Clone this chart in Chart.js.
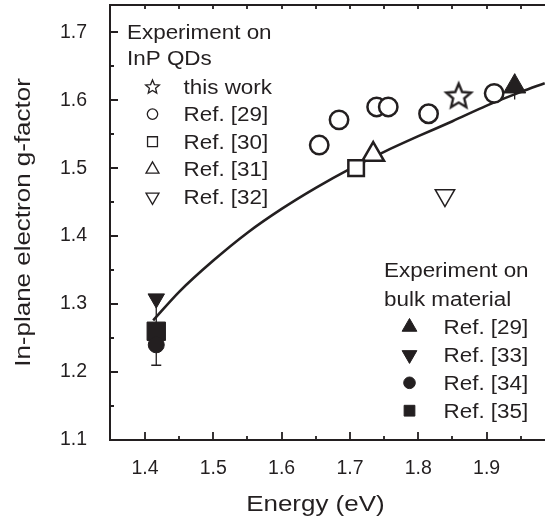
<!DOCTYPE html>
<html>
<head>
<meta charset="utf-8">
<script src="https://cdn.jsdelivr.net/npm/chart.js@4.4.1/dist/chart.umd.min.js"></script>
<style>
html, body { margin: 0; padding: 0; background: #fff; }
#wrap { width: 545px; height: 522px; position: relative; }
</style>
</head>
<body>
<div id="wrap"><canvas id="gfactorChart"></canvas></div>
<script>
// --- experiment on InP QDs (open symbols) ---
const thisWorkE = [1.859];
const thisWorkG = [1.607];
const ref29E = [1.655, 1.684, 1.739, 1.756, 1.815, 1.911];
const ref29G = [1.534, 1.571, 1.590, 1.590, 1.580, 1.610];
const ref30E = [1.709];
const ref30G = [1.500];
const ref31E = [1.734];
const ref31G = [1.520];
const ref32E = [1.839];
const ref32G = [1.460];

// --- experiment on bulk material (filled symbols) ---
const bulk29E = [1.941];
const bulk29G = [1.620];
const bulk29Err = [0.019];
const bulk33E = [1.4165];
const bulk33G = [1.308];
const bulk34E = [1.4165];
const bulk34G = [1.240];
const bulk35E = [1.4165];
const bulk35G = [1.260];
const bulk35Err = [0.05];

// --- calculated curve ---
const fitE = [1.412, 1.45, 1.50, 1.55, 1.60, 1.65, 1.70, 1.75, 1.80, 1.85, 1.90, 1.95, 1.985];
const fitG = [1.276, 1.318, 1.364, 1.405, 1.440, 1.471, 1.499, 1.524, 1.547, 1.569, 1.592, 1.612, 1.625];

// --- axes ---
const xTicks = [1.4, 1.5, 1.6, 1.7, 1.8, 1.9];
const xMinorTicks = [1.45, 1.55, 1.65, 1.75, 1.85, 1.95];
const yTicks = [1.1, 1.2, 1.3, 1.4, 1.5, 1.6, 1.7];
const yMinorTicks = [1.15, 1.25, 1.35, 1.45, 1.55, 1.65];
const xTitle = 'Energy (eV)';
const yTitle = 'In-plane electron g-factor';

// --- legend text ---
const qdHeader = ['Experiment on', 'InP QDs'];
const qdLabels = ['this work', 'Ref. [29]', 'Ref. [30]', 'Ref. [31]', 'Ref. [32]'];
const bulkHeader = ['Experiment on', 'bulk material'];
const bulkLabels = ['Ref. [29]', 'Ref. [33]', 'Ref. [34]', 'Ref. [35]'];

const ink = '#231f20';
const fontFamily = '"Liberation Sans", Arial, Helvetica, sans-serif';
Chart.defaults.font.family = fontFamily;

function pts(xs, ys) {
  return xs.map((x, i) => ({x: x, y: ys[i]}));
}

// five pointed open star as a point image
function starCanvas(R, ratio, lw) {
  const pad = Math.ceil(lw) + 2;
  const size = Math.ceil(2 * R + 2 * pad);
  const c = document.createElement('canvas');
  c.width = size;
  c.height = size;
  const g = c.getContext('2d');
  const cx = size / 2, cy = size / 2 + R * 0.095;
  g.beginPath();
  for (let i = 0; i < 10; i++) {
    const rr = i % 2 ? R * ratio : R;
    const a = -Math.PI / 2 + i * Math.PI / 5;
    g.lineTo(cx + rr * Math.cos(a), cy + rr * Math.sin(a));
  }
  g.closePath();
  g.fillStyle = '#fff';
  g.fill();
  g.lineWidth = lw;
  g.lineJoin = 'miter';
  g.strokeStyle = ink;
  g.stroke();
  return c;
}
const starBig = starCanvas(13, 0.45, 2.4);
const starSmall = starCanvas(7.2, 0.45, 1.3);

function openSet(label, data, style, radius, lw, rotation) {
  return {
    label: label, data: data, pointStyle: style, pointRadius: radius,
    pointRotation: rotation || 0, pointBorderWidth: lw,
    pointBorderColor: ink, pointBackgroundColor: '#fff',
    borderColor: ink, backgroundColor: '#fff'
  };
}
function filledSet(label, data, style, radius, rotation) {
  return {
    label: label, data: data, pointStyle: style, pointRadius: radius,
    pointRotation: rotation || 0, pointBorderWidth: 1,
    pointBorderColor: ink, pointBackgroundColor: ink,
    borderColor: ink, backgroundColor: ink
  };
}

// legend symbol styles, same order as the labels
const qdSymbols = [
  {pointStyle: starSmall, radius: 7, rotation: 0, borderWidth: 0, fill: '#fff'},
  {pointStyle: 'circle', radius: 5.2, rotation: 0, borderWidth: 1.3, fill: '#fff'},
  {pointStyle: 'rect', radius: 7, rotation: 0, borderWidth: 1.3, fill: '#fff'},
  {pointStyle: 'triangle', radius: 7.5, rotation: 0, borderWidth: 1.3, fill: '#fff'},
  {pointStyle: 'triangle', radius: 7.5, rotation: 180, borderWidth: 1.3, fill: '#fff'}
];
const bulkSymbols = [
  {pointStyle: 'triangle', radius: 8.5, rotation: 0, borderWidth: 1, fill: ink},
  {pointStyle: 'triangle', radius: 8.5, rotation: 180, borderWidth: 1, fill: ink},
  {pointStyle: 'circle', radius: 5.8, rotation: 0, borderWidth: 1, fill: ink},
  {pointStyle: 'rect', radius: 7.6, rotation: 0, borderWidth: 1, fill: ink}
];

function wideText(ctx, text, x, y, size, sx, align) {
  ctx.save();
  ctx.font = size + 'px ' + fontFamily;
  ctx.fillStyle = ink;
  ctx.textBaseline = 'alphabetic';
  ctx.textAlign = align || 'left';
  ctx.translate(x, y);
  ctx.scale(sx, 1);
  ctx.fillText(text, 0, 0);
  ctx.restore();
}

const errorBars = [
  {e: bulk35E, g: bulk35G, err: bulk35Err, cap: 10},
  {e: bulk29E, g: bulk29G, err: bulk29Err, cap: 0}
];

function noPadding(scale) {
  scale.paddingTop = 0;
  scale.paddingBottom = 0;
  scale.paddingLeft = 0;
  scale.paddingRight = 0;
}

const framePlugin = {
  id: 'frame',
  beforeDatasetsDraw: (chart) => {
    const ctx = chart.ctx;
    const xs = chart.scales.x, ys = chart.scales.y;
    ctx.save();
    ctx.strokeStyle = ink;
    ctx.lineWidth = 1.3;
    errorBars.forEach(b => {
      b.e.forEach((e, i) => {
        const px = xs.getPixelForValue(e);
        const lo = ys.getPixelForValue(b.g[i] - b.err[i]);
        const hi = ys.getPixelForValue(b.g[i] + b.err[i]);
        ctx.beginPath();
        ctx.moveTo(px, lo); ctx.lineTo(px, hi);
        if (b.cap) {
          ctx.moveTo(px - b.cap / 2, lo); ctx.lineTo(px + b.cap / 2, lo);
          ctx.moveTo(px - b.cap / 2, hi); ctx.lineTo(px + b.cap / 2, hi);
        }
        ctx.stroke();
      });
    });
    ctx.restore();
  },
  afterDraw: (chart) => {
    const ctx = chart.ctx;
    const a = chart.chartArea;
    const xs = chart.scales.x, ys = chart.scales.y;
    ctx.save();
    ctx.strokeStyle = ink;
    ctx.lineWidth = 2;
    // top frame line
    ctx.beginPath();
    ctx.moveTo(a.left - 1, a.top);
    ctx.lineTo(a.right, a.top);
    ctx.stroke();
    // inward tick marks
    ctx.lineWidth = 1.8;
    ctx.beginPath();
    xTicks.forEach(v => {
      const p = Math.round(xs.getPixelForValue(v));
      ctx.moveTo(p, a.bottom); ctx.lineTo(p, a.bottom - 8);
      ctx.moveTo(p, a.top); ctx.lineTo(p, a.top + 4);
    });
    xMinorTicks.forEach(v => {
      const p = Math.round(xs.getPixelForValue(v));
      ctx.moveTo(p, a.bottom); ctx.lineTo(p, a.bottom - 4);
      ctx.moveTo(p, a.top); ctx.lineTo(p, a.top + 4);
    });
    yTicks.forEach(v => {
      const p = Math.round(ys.getPixelForValue(v));
      ctx.moveTo(a.left, p); ctx.lineTo(a.left + 8, p);
    });
    yMinorTicks.forEach(v => {
      const p = Math.round(ys.getPixelForValue(v));
      ctx.moveTo(a.left, p); ctx.lineTo(a.left + 4, p);
    });
    ctx.stroke();
    ctx.restore();

    // axis titles
    wideText(ctx, xTitle, (a.left + xs.getPixelForValue(1.95)) / 2, 511, 22, 1.18, 'center');
    ctx.save();
    ctx.translate(30, (a.top + a.bottom) / 2);
    ctx.rotate(-Math.PI / 2);
    wideText(ctx, yTitle, 0, 0, 22, 1.18, 'center');
    ctx.restore();

    // legend: InP QDs
    wideText(ctx, qdHeader[0], 127, 38.5, 19.5, 1.15);
    wideText(ctx, qdHeader[1], 127, 65, 19.5, 1.15);
    qdLabels.forEach((t, i) => {
      const base = 93.5 + 27.6 * i;
      const s = qdSymbols[i];
      ctx.save();
      ctx.fillStyle = s.fill;
      ctx.strokeStyle = ink;
      ctx.lineWidth = s.borderWidth;
      Chart.helpers.drawPoint(ctx, s, 152.5, base - 7);
      ctx.restore();
      wideText(ctx, t, 183.5, base, 19.5, 1.15);
    });
    // legend: bulk material
    wideText(ctx, bulkHeader[0], 384, 277, 19.5, 1.15);
    wideText(ctx, bulkHeader[1], 384, 306, 19.5, 1.15);
    bulkLabels.forEach((t, i) => {
      const base = 334 + 27.9 * i;
      const s = bulkSymbols[i];
      ctx.save();
      ctx.fillStyle = s.fill;
      ctx.strokeStyle = ink;
      ctx.lineWidth = s.borderWidth;
      Chart.helpers.drawPoint(ctx, s, 409.5, base - 7);
      ctx.restore();
      wideText(ctx, t, 443.5, base, 19.5, 1.15);
    });
  }
};

const gfactorChart = new Chart(document.getElementById('gfactorChart'), {
  type: 'scatter',
  data: {
    datasets: [
      openSet('this work', pts(thisWorkE, thisWorkG), starBig, 13, 0),
      openSet('Ref. [29]', pts(ref29E, ref29G), 'circle', 9.2, 2.5),
      openSet('Ref. [30]', pts(ref30E, ref30G), 'rect', 11, 2.5),
      openSet('Ref. [31]', pts(ref31E, ref31G), 'triangle', 12.5, 2.5),
      openSet('Ref. [32]', pts(ref32E, ref32G), 'triangle', 11.2, 1.5, 180),
      filledSet('bulk Ref. [29]', pts(bulk29E, bulk29G), 'triangle', 12.8),
      filledSet('bulk Ref. [33]', pts(bulk33E, bulk33G), 'triangle', 9.5, 180),
      filledSet('bulk Ref. [34]', pts(bulk34E, bulk34G), 'circle', 8),
      filledSet('bulk Ref. [35]', pts(bulk35E, bulk35G), 'rect', 13),
      {
        label: 'calculation',
        data: pts(fitE, fitG),
        showLine: true,
        pointRadius: 0,
        borderColor: ink,
        borderWidth: 2.6,
        cubicInterpolationMode: 'monotone'
      }
    ]
  },
  options: {
    animation: false,
    responsive: true,
    maintainAspectRatio: false,
    events: [],
    layout: { autoPadding: false, padding: { top: 5, right: 0, bottom: 0, left: 0 } },
    plugins: {
      legend: { display: false },
      tooltip: { enabled: false }
    },
    scales: {
      x: {
        type: 'linear',
        min: 1.3488,
        max: 1.9854,
        afterBuildTicks: (scale) => { scale.ticks = xTicks.map(v => ({value: v})); },
        afterFit: (scale) => { scale.height = 82; noPadding(scale); },
        grid: { display: false },
        border: { display: true, width: 2, color: ink },
        ticks: {
          color: ink,
          font: { size: 19.5 },
          padding: 9,
          maxRotation: 0,
          autoSkip: false,
          callback: (v) => Number(v).toFixed(1)
        }
      },
      y: {
        type: 'linear',
        min: 1.1,
        max: 1.74,
        afterBuildTicks: (scale) => { scale.ticks = yTicks.map(v => ({value: v})); },
        afterFit: (scale) => { scale.width = 110; noPadding(scale); },
        grid: { display: false },
        border: { display: true, width: 2, color: ink },
        ticks: {
          color: ink,
          font: { size: 19.5 },
          padding: 15,
          autoSkip: false,
          callback: (v) => Number(v).toFixed(1)
        }
      }
    }
  },
  plugins: [framePlugin, {
    id: 'whiteBackground',
    beforeDraw: (chart) => {
      const ctx = chart.canvas.getContext('2d');
      ctx.save();
      ctx.globalCompositeOperation = 'destination-over';
      ctx.fillStyle = 'white';
      ctx.fillRect(0, 0, chart.canvas.width, chart.canvas.height);
      ctx.restore();
    }
  }]
});
</script>
</body>
</html>
